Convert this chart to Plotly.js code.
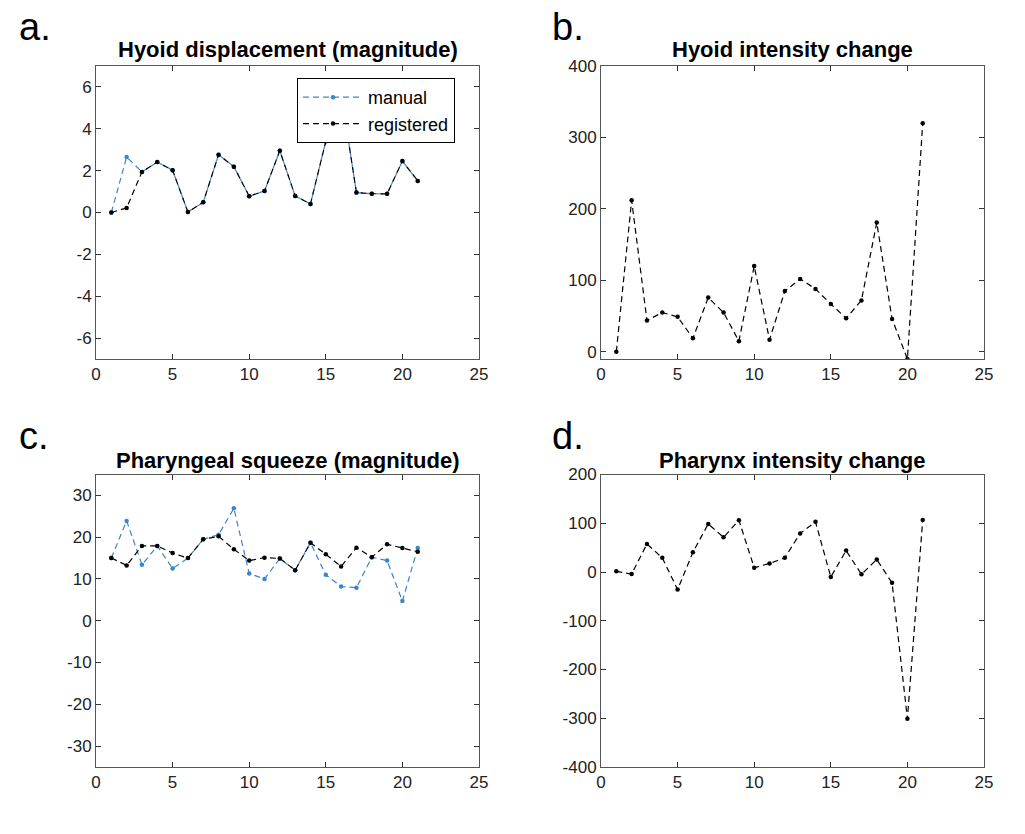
<!DOCTYPE html>
<html>
<head>
<meta charset="utf-8">
<script src="https://cdn.plot.ly/plotly-3.0.1.min.js"></script>
<style>html,body{margin:0;padding:0;background:#fff;}#chart{width:1025px;height:834px;}</style>
</head>
<body>
<div id="chart"></div>
<script>
// Frame index (x values)
const frames = [1,2,3,4,5,6,7,8,9,10,11,12,13,14,15,16,17,18,19,20,21];

// a. Hyoid displacement (magnitude)
const hyoidDispManual     = [0, 2.65, 1.94, 2.41, 2.02, 0.02, 0.49, 2.76, 2.19, 0.78, 1.03, 2.95, 0.79, 0.41, 3.40, 5.7, 0.95, 0.90, 0.89, 2.46, 1.51];
const hyoidDispRegistered = [0, 0.22, 1.94, 2.41, 2.02, 0.02, 0.49, 2.76, 2.19, 0.78, 1.03, 2.95, 0.79, 0.41, 3.40, 5.7, 0.95, 0.90, 0.89, 2.46, 1.51];

// b. Hyoid intensity change
const hyoidIntensity = [0, 212, 44, 55, 49, 19, 76, 55, 15, 120, 17, 85, 102, 88, 67, 47, 72, 181, 46, -10, 320];

// c. Pharyngeal squeeze (magnitude)
const pharSqueezeManual     = [15.0, 23.9, 13.4, 17.9, 12.5, 15.0, 19.5, 20.6, 26.9, 11.3, 10.0, 14.9, 12.1, 18.65, 11.0, 8.2, 7.9, 15.2, 14.4, 4.7, 17.4];
const pharSqueezeRegistered = [15.0, 13.25, 17.9, 17.9, 16.2, 15.0, 19.5, 20.2, 17.1, 14.4, 15.1, 14.9, 12.1, 18.65, 15.9, 13.0, 17.5, 15.2, 18.3, 17.4, 16.5];

// d. Pharynx intensity change
const pharynxIntensity = [1.4, -4.1, 57.5, 29.1, -35.9, 40.6, 98.6, 71.1, 106.3, 8.8, 17.6, 29.1, 79.2, 102.9, -10.2, 43.9, -4.7, 25.7, -22.3, -301, 106.9];

// Axis tick labels
const xTicks = [0, 5, 10, 15, 20, 25];
const yTicksA = [-6, -4, -2, 0, 2, 4, 6];
const yTicksB = [0, 100, 200, 300, 400];
const yTicksC = [-30, -20, -10, 0, 10, 20, 30];
const yTicksD = [-400, -300, -200, -100, 0, 100, 200];

const titles = ['Hyoid displacement (magnitude)', 'Hyoid intensity change', 'Pharyngeal squeeze (magnitude)', 'Pharynx intensity change'];
const panelLetters = ['a.', 'b.', 'c.', 'd.'];

const BLUE = '#3a86cc';
const BLACK = '#000000';
const DASH = '6px,4px';
const FONT = 'Liberation Sans, Arial, sans-serif';

function series(y, name, color, xa, ya, showlegend) {
  return {
    x: frames, y: y, name: name, type: 'scatter', mode: 'lines+markers',
    xaxis: xa, yaxis: ya, showlegend: showlegend,
    line: {color: color, width: 1.2, dash: DASH},
    marker: {color: color, size: 4.5, symbol: 'circle'},
    cliponaxis: true
  };
}

const data = [
  series(hyoidDispManual, 'manual', BLUE, 'x', 'y', true),
  series(hyoidDispRegistered, 'registered', BLACK, 'x', 'y', true),
  series(hyoidIntensity, 'registered', BLACK, 'x2', 'y2', false),
  series(pharSqueezeManual, 'manual', BLUE, 'x3', 'y3', false),
  series(pharSqueezeRegistered, 'registered', BLACK, 'x3', 'y3', false),
  series(pharynxIntensity, 'registered', BLACK, 'x4', 'y4', false)
];

const TICKFONT = {family: FONT, size: 17, color: '#222'};

function xax(domain, anchor) {
  return {
    domain: domain, anchor: anchor, range: [0, 25],
    tickmode: 'array', tickvals: xTicks, ticktext: xTicks.map(String),
    ticks: 'inside', ticklen: 5, tickcolor: '#333', mirror: 'ticks',
    showline: true, linecolor: '#555', linewidth: 1, showgrid: false, zeroline: false,
    tickfont: TICKFONT
  };
}
function yax(domain, anchor, range, ticks) {
  return {
    domain: domain, anchor: anchor, range: range,
    tickmode: 'array', tickvals: ticks, ticktext: ticks.map(String),
    ticks: 'inside', ticklen: 5, tickcolor: '#333', mirror: 'ticks',
    showline: true, linecolor: '#555', linewidth: 1, showgrid: false, zeroline: false,
    tickfont: TICKFONT
  };
}

const W = 1025, H = 834;
const dxL = [96 / W, 479 / W], dxR = [601 / W, 984 / W];
const dyT = [1 - 359 / H, 1 - 66 / H], dyB = [1 - 767 / H, 1 - 474.5 / H];

const titlePos = [[287.5, 50], [792.5, 50], [287.5, 460], [792.5, 460]];
const letterPos = [[17, 27], [550, 27], [17, 436], [550, 436]];

const annotations = [];
for (let i = 0; i < 4; i++) {
  annotations.push({
    text: '<b>' + titles[i] + '</b>', xref: 'paper', yref: 'paper',
    x: titlePos[i][0] / W, y: 1 - titlePos[i][1] / H, xanchor: 'center', yanchor: 'middle',
    showarrow: false, font: {family: FONT, size: 22, color: '#000'}
  });
  annotations.push({
    text: panelLetters[i], xref: 'paper', yref: 'paper',
    x: letterPos[i][0] / W, y: 1 - letterPos[i][1] / H, xanchor: 'left', yanchor: 'middle',
    showarrow: false, font: {family: FONT, size: 38, color: '#000'}
  });
}

const layout = {
  width: W, height: H,
  margin: {l: 0, r: 0, t: 0, b: 0},
  paper_bgcolor: '#fff', plot_bgcolor: '#fff',
  showlegend: true,
  legend: {
    x: 297 / W, y: 1 - 78 / H, xanchor: 'left', yanchor: 'top',
    bordercolor: '#000', borderwidth: 1, bgcolor: '#fff',
    font: {family: FONT, size: 18, color: '#000'},
    tracegroupgap: 0, itemwidth: 60
  },
  xaxis: xax(dxL, 'y'), yaxis: yax(dyT, 'x', [-7, 7], yTicksA),
  xaxis2: xax(dxR, 'y2'), yaxis2: yax(dyT, 'x2', [-10, 400], yTicksB),
  xaxis3: xax(dxL, 'y3'), yaxis3: yax(dyB, 'x3', [-35, 35], yTicksC),
  xaxis4: xax(dxR, 'y4'), yaxis4: yax(dyB, 'x4', [-400, 200], yTicksD),
  annotations: annotations
};

Plotly.newPlot('chart', data, layout, {staticPlot: true});
</script>
</body>
</html>
